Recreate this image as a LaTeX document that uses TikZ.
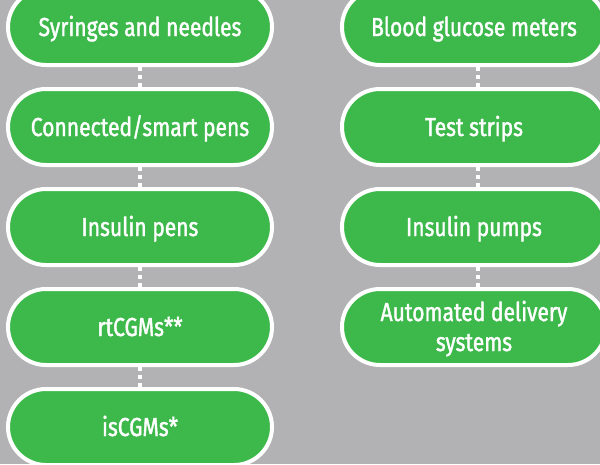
\documentclass[tikz,border=0pt]{standalone}
\usepackage{fontspec}
\setmainfont[FakeStretch=0.81,FakeBold=1.5]{Fira Sans}
\definecolor{bggray}{RGB}{178,178,180}
\definecolor{pillgreen}{RGB}{61,185,75}
\begin{document}
\begin{tikzpicture}[x=1pt,y=-1pt,
  pill/.style={draw=white, line width=4pt, fill=pillgreen, text=white,
    rounded corners=38pt, minimum width=264pt, minimum height=76pt,
    inner sep=0pt, align=center, text height=20pt, text depth=2pt,
    font=\fontsize{26}{30}\selectfont},
  link/.style={draw=white, line width=4pt, dash pattern=on 4pt off 4pt}]
\useasboundingbox (0,0) rectangle (600,464);
\fill[bggray] (0,0) rectangle (600,464);
\node[pill] (l1) at (140,27) {Syringes and needles};
\node[pill] (l2) at (140,127) {Connected/smart pens};
\node[pill] (l3) at (140,227) {Insulin pens};
\node[pill] (l4) at (140,327) {rtCGMs**};
\node[pill] (l5) at (140,427) {isCGMs*};
\node[pill] (r1) at (474,27) {Blood glucose meters};
\node[pill] (r2) at (474,127) {Test strips};
\node[pill] (r3) at (474,227) {Insulin pumps};
\node[pill, text height=50pt] (r4) at (474,327) {Automated delivery\\systems};
\draw[link] (l1.south) -- (l2.north);
\draw[link] (l2.south) -- (l3.north);
\draw[link] (l3.south) -- (l4.north);
\draw[link] (l4.south) -- (l5.north);
\draw[link] ([xshift=4pt]r1.south) -- ([xshift=4pt]r2.north);
\draw[link] ([xshift=4pt]r2.south) -- ([xshift=4pt]r3.north);
\draw[link] ([xshift=4pt]r3.south) -- ([xshift=4pt]r4.north);
\end{tikzpicture}
\end{document}
